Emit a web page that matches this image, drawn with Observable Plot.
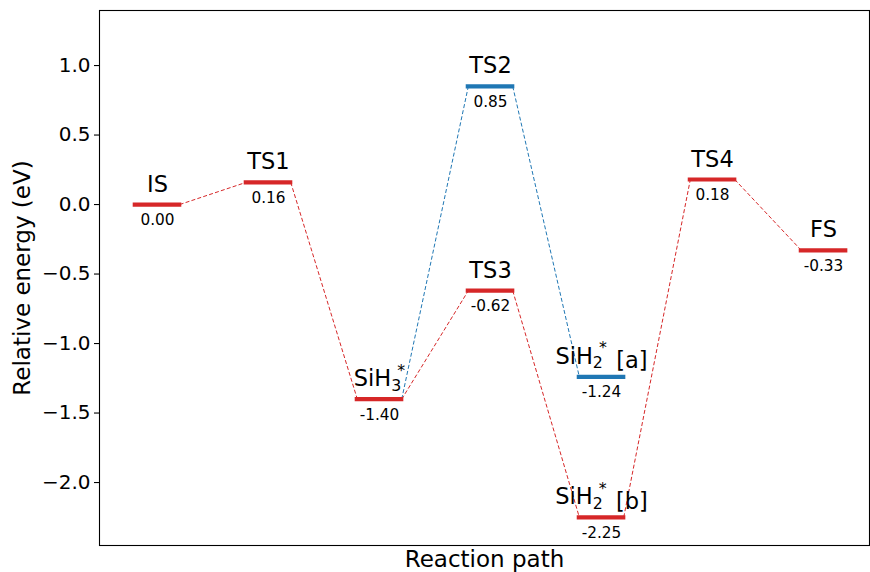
<!DOCTYPE html>
<html>
<head>
<meta charset="utf-8">
<script src="https://cdn.jsdelivr.net/npm/d3@7"></script>
<script src="https://cdn.jsdelivr.net/npm/@observablehq/plot@0.6"></script>
<style>
  html, body { margin: 0; padding: 0; background: white; }
  #chart svg { display: block; }
</style>
</head>
<body>
<div id="chart"></div>
<script>
// ---- data ----
const stateNames = ["IS", "TS1", "SiH3*", "TS2", "TS3", "SiH2* [a]", "SiH2* [b]", "TS4", "FS"];
const statePos   = [0, 1, 2, 3, 3, 4, 4, 5, 6];
const stateEnergy = [0.00, 0.16, -1.40, 0.85, -0.62, -1.24, -2.25, 0.18, -0.33];
const statePath  = ["red", "red", "red", "blue", "red", "blue", "red", "red", "red"];
const linkFrom = [0, 1, 2, 2, 4, 3, 6, 7];
const linkTo   = [1, 2, 4, 3, 6, 5, 7, 8];
const linkPath = ["red", "red", "red", "blue", "red", "blue", "red", "red"];
const yTicks = [-2.0, -1.5, -1.0, -0.5, 0.0, 0.5, 1.0];

const palette = {red: "#d62728", blue: "#1f77b4"};
const half = 0.2;

const levels = stateNames.map((n, i) => ({
  name: n, x: statePos[i], e: stateEnergy[i], color: palette[statePath[i]],
  value: stateEnergy[i].toFixed(2)
}));
const links = linkFrom.map((f, i) => ({
  x1: statePos[f] + half, y1: stateEnergy[f],
  x2: statePos[linkTo[i]] - half, y2: stateEnergy[linkTo[i]],
  color: palette[linkPath[i]]
}));

const plot = Plot.plot({
  width: 870,
  height: 572,
  marginLeft: 99,
  marginRight: 1,
  marginTop: 10,
  marginBottom: 27,
  style: {fontFamily: "DejaVu Sans", background: "white", color: "black"},
  x: {domain: [-0.5225, 6.414], axis: null},
  y: {domain: [-2.453, 1.396], axis: null},
  marks: [
    Plot.axisY({ticks: yTicks, tickFormat: d3.format(".1f"), tickSize: 5, tickPadding: 4, fontSize: 20, label: null, strokeWidth: 1.1}),
    Plot.link(links, {x1: "x1", y1: "y1", x2: "x2", y2: "y2", stroke: "color", strokeWidth: 1, strokeDasharray: "4,2.2"}),
    Plot.ruleY(levels, {y: "e", x1: d => d.x - half, x2: d => d.x + half, stroke: "color", strokeWidth: 4.2, strokeLinecap: "square"}),
    Plot.text(levels, {x: "x", y: "e", text: "name", fontSize: 22.5, lineAnchor: "bottom", dy: -13, fill: "black"}),
    Plot.text(levels, {x: "x", y: "e", text: "value", fontSize: 15.3, lineAnchor: "bottom", dy: 20.5, fill: "black"}),
    Plot.frame({stroke: "black", strokeWidth: 1.1}),
    Plot.text(["Relative energy (eV)"], {frameAnchor: "left", dx: -77, rotate: -90, textAnchor: "middle", lineAnchor: "middle", fontSize: 23, fill: "black"}),
    Plot.text(["Reaction path"], {frameAnchor: "bottom", dy: 21.5, textAnchor: "middle", lineAnchor: "bottom", fontSize: 23, fill: "black"})
  ]
});

// chemical formula markup (subscript + superscript)
d3.select(plot).selectAll("text").each(function() {
  const t = this.textContent;
  const m = t.match(/^SiH([23])\*\s*(.*)$/);
  if (!m) return;
  const sel = d3.select(this);
  sel.text("");
  sel.append("tspan").text("SiH");
  sel.append("tspan").attr("font-size", "0.7em").attr("dy", "0.28em").text(m[1]);
  sel.append("tspan").attr("font-size", "0.7em").attr("dx", "-0.25em").attr("dy", "-0.95em").text("*");
  if (m[2]) sel.append("tspan").attr("dy", "0.67em").attr("dx", "0.42em").text(m[2]);
});

document.getElementById("chart").appendChild(plot);
</script>
</body>
</html>
